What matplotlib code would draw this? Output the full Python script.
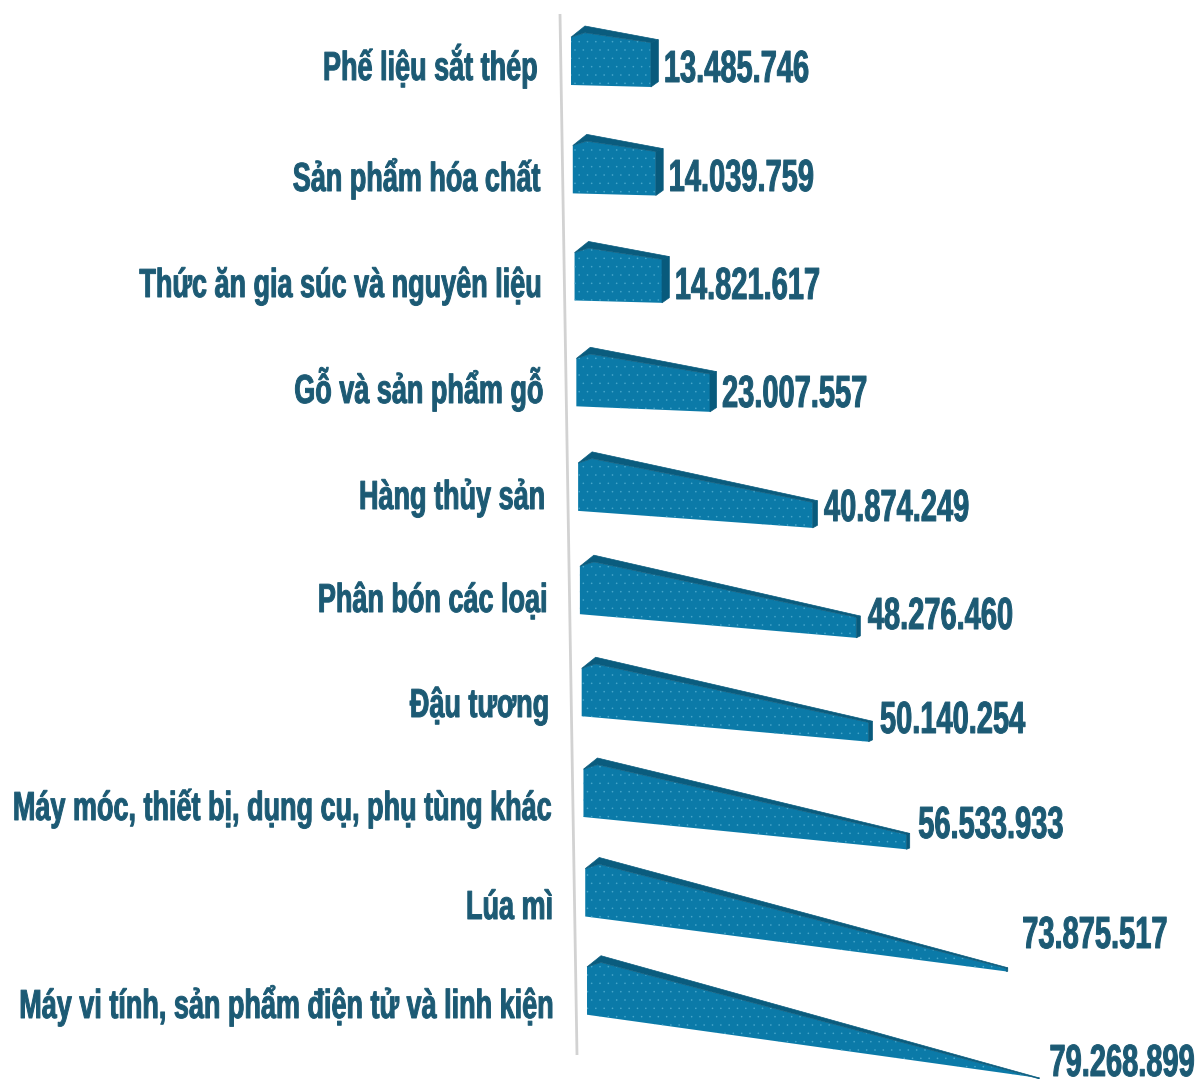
import matplotlib
matplotlib.use("Agg")
import matplotlib.pyplot as plt
from matplotlib.patches import Polygon
from matplotlib.patheffects import AbstractPathEffect
from matplotlib.transforms import Affine2D

# Import value per commodity, top row to bottom row
categories = [
    "Phế liệu sắt thép",
    "Sản phẩm hóa chất",
    "Thức ăn gia súc và nguyên liệu",
    "Gỗ và sản phẩm gỗ",
    "Hàng thủy sản",
    "Phân bón các loại",
    "Đậu tương",
    "Máy móc, thiết bị, dụng cụ, phụ tùng khác",
    "Lúa mì",
    "Máy vi tính, sản phẩm điện tử và linh kiện",
]
values = [13485746, 14039759, 14821617, 23007557, 40874249,
          48276460, 50140254, 56533933, 73875517, 79268899]

# Text placement per row
category_right = [537, 540, 541, 543, 545, 547, 549, 551, 553, 553]
category_baseline = [80, 191, 297, 403, 509, 612, 717, 820, 919, 1018]
value_gap = [5.5, 5.5, 5.5, 5.5, 6.5, 7.5, 7.5, 8.5, 14.5, 10]
value_baseline = [82, 191, 299, 407, 521, 629, 733, 838, 948, 1076]

FRONT = "#0b7aa8"
TOP = "#0a5c7e"
SIDE = "#085a7c"
DOTS = "#46a6cb"
TEXT = "#1c5a74"
AXIS = "#d2d2d2"

PX_PER_UNIT = 5.55e-6
DEPTH = 12.5        # extra length contributed by the 3D depth
FULL_H = 59         # silhouette height at the near end
VANISH = 454        # bar length at which the perspective closes
CORNER = 14         # horizontal offset of the back corner


class BoldStretch(AbstractPathEffect):
    """Stretch glyphs upward from their baseline and thicken them a little."""

    def __init__(self, factor, weight=0.7):
        super().__init__()
        self.factor = factor
        self.weight = weight

    def draw_path(self, renderer, gc, tpath, affine, rgbFace=None):
        gc0 = renderer.new_gc()
        gc0.copy_properties(gc)
        gc0.set_linewidth(self.weight)
        gc0.set_foreground(rgbFace)
        renderer.draw_path(gc0, tpath, Affine2D().scale(1, self.factor) + affine, rgbFace)
        gc0.restore()


def drop(length):
    return 0.00031 * length ** 2


def height(length):
    return max(FULL_H * (1 - length / VANISH), 0)


def band(length):
    # thickness of the top face seen along the bar
    return 1 + 4 * max(1 - length / VANISH, 0)


plt.rcParams["hatch.linewidth"] = 0
fig = plt.figure(figsize=(11.96, 10.8), dpi=100, facecolor="white")
ax = fig.add_axes([0, 0, 1, 1])
ax.set_xlim(0, 1196)
ax.set_ylim(1080, 0)
ax.axis("off")

ax.plot([560, 577], [14, 1055], color=AXIS, lw=2, solid_capstyle="butt", zorder=1)

for i, (name, value) in enumerate(zip(categories, values)):
    x0 = 571 + 1.78 * i
    yb = 85 + 109 * i - 0.633 * i ** 2
    length = DEPTH + PX_PER_UNIT * value
    side_w = 8 * (1 - length / VANISH) + 1
    near = length - side_w

    near_bottom = (x0 + near, yb + drop(near))
    near_top = (x0 + near, yb + drop(near) - height(near) + band(near))
    left_top = (x0, yb - 0.81 * FULL_H)
    back_corner = (x0 + CORNER, yb - FULL_H)
    inner_corner = (x0 + CORNER, yb + drop(CORNER) - height(CORNER) + band(CORNER))
    far_top = (x0 + length, yb + drop(length) - height(length))
    far_bottom = (x0 + length, yb + drop(length) - 0.12 * height(length))

    front_pts = [(x0, yb), near_bottom, near_top, inner_corner, left_top]
    top_pts = [left_top, back_corner, far_top, near_top, inner_corner]
    side_pts = [near_bottom, far_bottom, far_top, near_top]

    ax.add_patch(Polygon(front_pts, closed=True, facecolor=FRONT, edgecolor=DOTS,
                         hatch="..", lw=0, zorder=2))
    ax.add_patch(Polygon(top_pts, closed=True, facecolor=TOP, edgecolor=TOP, lw=0.5, zorder=3))
    ax.add_patch(Polygon(side_pts, closed=True, facecolor=SIDE, edgecolor=SIDE, lw=0.5, zorder=3))

    ax.text(category_right[i], category_baseline[i], name, ha="right", va="baseline",
            family="Liberation Sans", weight="bold", fontsize=19.45, color=TEXT,
            path_effects=[BoldStretch(1.5)], zorder=4)
    ax.text(x0 + length + value_gap[i], value_baseline[i], f"{value:,}".replace(",", "."),
            ha="left", va="baseline", family="Liberation Sans", weight="bold",
            fontsize=20.9, color=TEXT, path_effects=[BoldStretch(1.55)], zorder=4)

fig.savefig("out.png", dpi=100, facecolor="white")
